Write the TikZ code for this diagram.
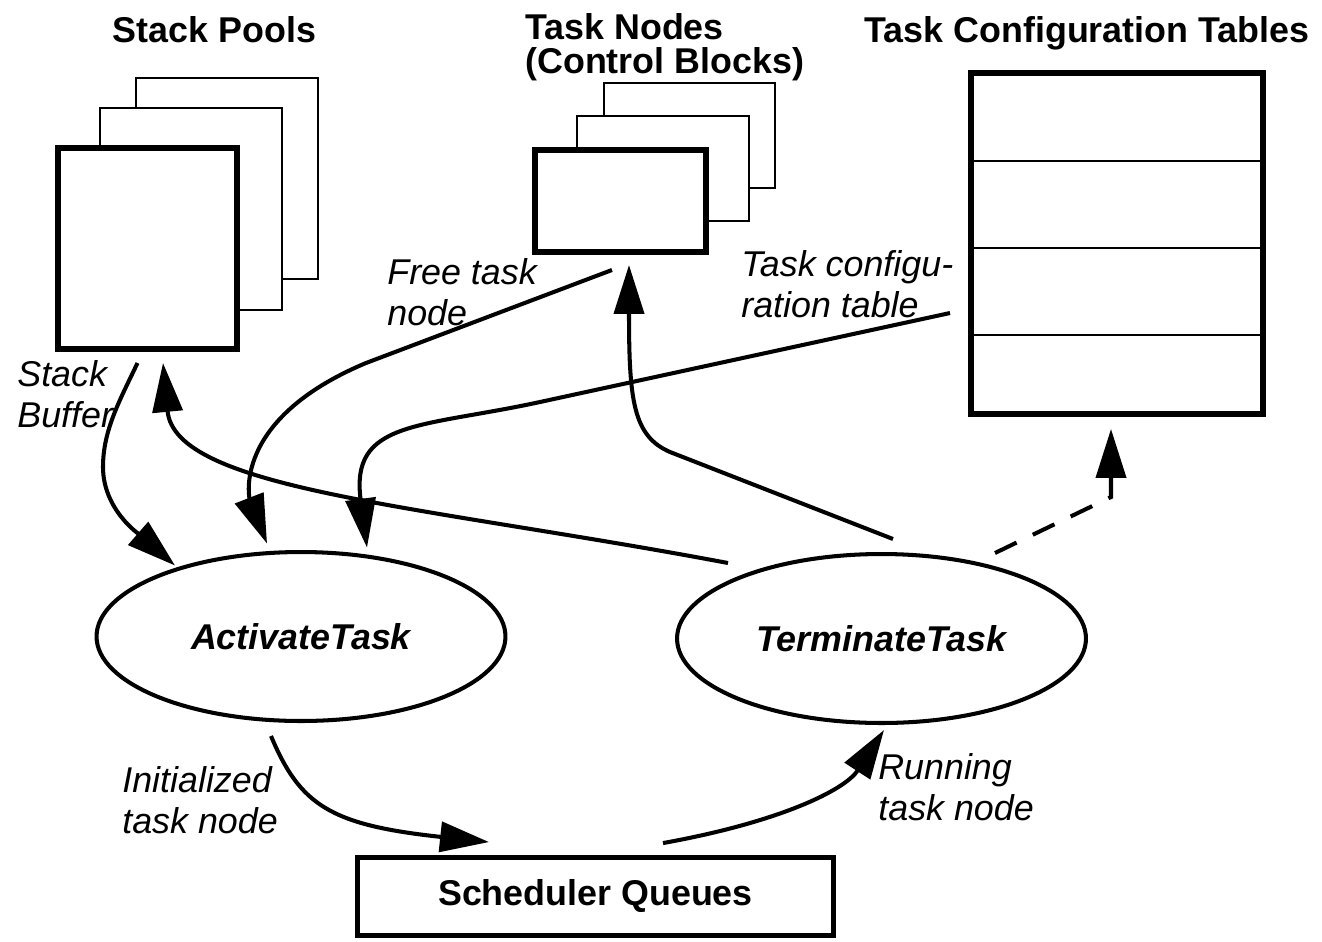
\documentclass[tikz,border=0pt]{standalone}
\usepackage{fontspec}
\setmainfont{Liberation Sans}
\usetikzlibrary{shapes.geometric,arrows.meta,calc}

\newcommand\figfont{\fontsize{20.4}{22.8}\selectfont}

\tikzset{
  pagebox/.style={draw, line width=0.85pt, fill=white, inner sep=0pt},
  frontbox/.style={draw, line width=3.4pt, fill=white, inner sep=0pt},
  procnode/.style={ellipse, draw, line width=2.3pt, inner sep=0pt,
    minimum width=8.18cm, minimum height=3.38cm, font=\figfont\bfseries\itshape},
  flow/.style={line width=2.3pt, -{Triangle[length=0.98cm,width=0.6cm]}},
  title/.style={font=\fontsize{20.4}{18.8}\selectfont\bfseries, inner sep=0pt},
  note/.style={font=\figfont\itshape, align=left, inner sep=0pt, anchor=base west},
}

\begin{document}
\begin{tikzpicture}[x=0.02cm, y=-0.02cm]
\useasboundingbox (0,0) rectangle (1322,941);

% stack pools
\node[pagebox, minimum width=3.64cm, minimum height=4.02cm] (stackback) at (227,178.5) {};
\node[pagebox, minimum width=3.64cm, minimum height=4.04cm] (stackmid) at (191,209) {};
\node[frontbox, minimum width=3.58cm, minimum height=4.02cm] (stack) at (147.5,248.5) {};
\node[title, anchor=base] (stacktitle) at (214.5,42) {Stack Pools};

% task nodes
\node[pagebox, minimum width=3.42cm, minimum height=2.1cm] (tnodeback) at (689.5,135.5) {};
\node[pagebox, minimum width=3.44cm, minimum height=2.1cm] (tnodemid) at (663,168.5) {};
\node[frontbox, minimum width=3.42cm, minimum height=2.04cm] (tnode) at (620.5,201) {};
\node[title, anchor=base west, align=left] (tnodetitle) at (525,73) {Task Nodes\\(Control Blocks)};

% configuration table
\node[frontbox, minimum width=5.84cm, minimum height=6.82cm] (cfgtab) at (1117,243.5) {};
\foreach \y in {161,248,335}
  \draw[line width=0.85pt] (971,\y) -- (1263,\y);
\node[title, anchor=base] (cfgtitle) at (1087,42) {Task Configuration Tables};

% services and queues
\node[procnode] (act) at (301,636.5) {ActivateTask};
\node[procnode] (term) at (881.5,638.5) {TerminateTask};
\node[draw, line width=2.8pt, inner sep=0pt, minimum width=9.52cm, minimum height=1.56cm,
  font=\figfont\bfseries] (sched) at (595.5,896.5) {Scheduler Queues};

% labels
\node[note] (stacklbl) at (17,427) {Stack\\Buffer};
\node[note] (freelbl) at (387,325) {Free task\\node};
\node[note] (cfglbl) at (741,317) {Task configu-\\ration table};
\node[note] (initlbl) at (122,833) {Initialized\\task node};
\node[note] (runlbl) at (878,820) {Running\\task node};

% connectors
\draw[flow] ($(stack.south)+(-10,11)$) .. controls (120,400) and (103,430) .. (103,467)
  .. controls (103,510) and (140,535) .. ($(act.center)+(-126,-71)$);
\draw[flow] ($(term.center)+(-153.5,-75.5)$) .. controls (420,505) and (175,490) .. ($(stack.south)+(15.5,11)$);
\draw[flow] ($(tnode.south)+(-8.5,15)$) -- (366,363)
  .. controls (230,420) and (250,500) .. ($(act.center)+(-34,-93)$);
\draw[flow] ($(cfgtab.west)+(-18,69.5)$) -- (540,402)
  .. controls (420,428) and (350,420) .. ($(act.center)+(66,-89)$);
\draw[flow] ($(term.north)+(11.5,-13)$) -- (670,452)
  .. controls (633,436) and (629,400) .. ($(tnode.south)+(8.5,10)$);
\draw[flow, dash pattern=on 0.48cm off 0.36cm] ($(term.center)+(113.5,-85.5)$) -- (1111,497)
  -- ($(cfgtab.south)+(-6,12)$);
\draw[flow] ($(act.south)+(-30,13)$) .. controls (300,805) and (330,825) .. ($(sched.north)+(-106.5,-13)$);
\draw[flow] ($(sched.north)+(67.5,-12)$) .. controls (780,822) and (845,790) .. ($(term.south)+(2.5,5)$);
\end{tikzpicture}
\end{document}
